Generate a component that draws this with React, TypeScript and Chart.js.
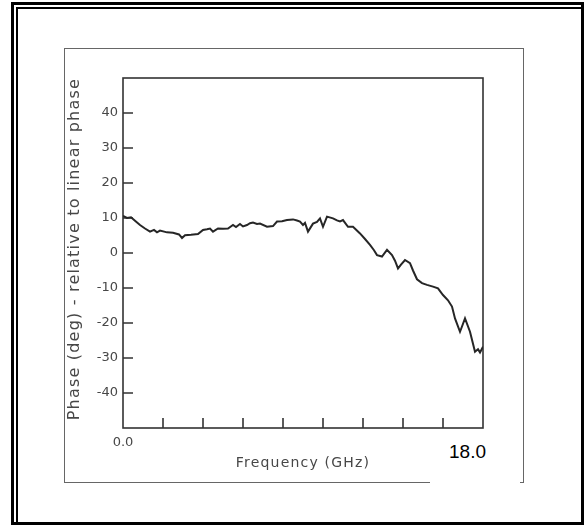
import { useEffect, useRef } from "react";
import { Chart, registerables } from "chart.js";

Chart.register(...registerables);

// ---- data ----
const freqGHz = [
  0.0, 0.2, 0.4, 0.6, 0.85, 1.1, 1.35, 1.55, 1.7, 1.85, 2.2, 2.5, 2.8, 2.95, 3.1, 3.4, 3.75, 4.0, 4.2, 4.35,
  4.5, 4.75, 5.0, 5.25, 5.5, 5.65, 5.85, 6.0, 6.2, 6.35, 6.5, 6.7, 6.85, 7.2, 7.5, 7.7, 7.95, 8.2, 8.5, 8.7,
  8.85, 9.0, 9.1, 9.25, 9.5, 9.7, 9.85, 10.0, 10.2, 10.5, 10.7, 10.85, 11.0, 11.25, 11.5, 11.85, 12.1, 12.35,
  12.55, 12.7, 12.95, 13.2, 13.45, 13.6, 13.75, 13.9, 14.1, 14.35, 14.5, 14.7, 14.95, 15.2, 15.5, 15.75, 16.0,
  16.25, 16.45, 16.6, 16.85, 16.95, 17.1, 17.35, 17.6, 17.75, 17.85, 18.0,
];
const phaseDeg = [
  10.6, 10.0, 10.2, 9.2, 8.0, 7.0, 6.1, 6.6, 5.9, 6.4, 5.9, 5.8, 5.3, 4.3, 5.1, 5.2, 5.4, 6.6, 6.8, 7.0,
  6.1, 7.0, 6.9, 7.0, 8.0, 7.4, 8.3, 7.6, 8.0, 8.5, 8.7, 8.3, 8.4, 7.5, 7.7, 9.0, 9.1, 9.4, 9.6, 9.3,
  9.0, 8.0, 8.6, 6.1, 8.4, 8.9, 9.9, 7.5, 10.4, 9.9, 9.3, 9.0, 9.4, 7.5, 7.5, 5.6, 4.0, 2.3,
  0.8, -0.6, -1.0, 0.9, -0.6, -2.2, -4.4, -3.3, -2.0, -2.9, -5.0, -7.5, -8.6, -9.1, -9.6, -10.1, -12.0,
  -13.5, -15.3, -18.7, -22.5, -21.0, -18.7, -22.5, -28.2, -27.5, -28.4, -26.8,
];

const yTickValues = [-40, -30, -20, -10, 0, 10, 20, 30, 40];
const xTickValues = [2, 4, 6, 8, 10, 12, 14, 16];
const xLabelValues = [0];
const xLabelTexts = ["0.0"];
const xEndLabel = "18.0";
const yTitle = "Phase (deg) - relative to linear phase";
const xTitle = "Frequency (GHz)";

const FONT = "'DejaVu Sans', 'Noto Sans', sans-serif";
const TEXT = "#474747";
const LINE = "#333333";

const framePlugin = {
  id: "scanFrame",
  afterUpdate(chart: any) {
    Object.values(chart.scales).forEach((s: any) => {
      if (s.__spaced) return;
      const orig = s.drawTitle.bind(s);
      s.drawTitle = function () {
        const c = this.ctx;
        const prev = c.letterSpacing;
        c.letterSpacing = "1.2px";
        orig();
        c.letterSpacing = prev || "0px";
      };
      s.__spaced = true;
    });
  },
  beforeDatasetsDraw(chart: any) {
    const { ctx, chartArea: a, scales } = chart;
    ctx.save();
    ctx.strokeStyle = LINE;
    ctx.lineWidth = 1.6;
    ctx.strokeRect(a.left, a.top, a.right - a.left, a.bottom - a.top);
    ctx.beginPath();
    yTickValues.forEach((v) => {
      const y = scales.y.getPixelForValue(v);
      ctx.moveTo(a.left, y);
      ctx.lineTo(a.left + 10, y);
    });
    xTickValues.forEach((v) => {
      const x = scales.x.getPixelForValue(v);
      ctx.moveTo(x, a.bottom);
      ctx.lineTo(x, a.bottom - 10);
    });
    ctx.stroke();
    ctx.restore();
  },
};

export default function App() {
  const ref = useRef<HTMLCanvasElement | null>(null);

  useEffect(() => {
    if (!ref.current) return;
    const chart = new Chart(ref.current, {
      type: "line",
      data: {
        datasets: [
          {
            data: freqGHz.map((f, i) => ({ x: f, y: phaseDeg[i] })),
            borderColor: "#262626",
            borderWidth: 2,
            pointRadius: 0,
            fill: false,
            tension: 0,
          },
        ],
      },
      options: {
        animation: false,
        responsive: false,
        layout: { padding: { left: 0, top: 78, right: 104, bottom: 0 } },
        plugins: { legend: { display: false }, tooltip: { enabled: false } },
        scales: {
          x: {
            type: "linear",
            min: 0,
            max: 18,
            afterFit: (s: any) => {
              s.height = 99;
            },
            grid: { display: false, drawTicks: false },
            border: { display: false },
            ticks: {
              stepSize: 2,
              autoSkip: false,
              maxRotation: 0,
              padding: 7,
              color: TEXT,
              font: { family: FONT, size: 13 },
              callback: (v: any) => {
                const i = xLabelValues.indexOf(Number(v));
                return i >= 0 ? xLabelTexts[i] : "";
              },
            },
            title: {
              display: true,
              text: xTitle,
              color: TEXT,
              font: { family: FONT, size: 14 },
              padding: { top: 0, bottom: 55 },
            },
          },
          y: {
            type: "linear",
            min: -50,
            max: 50,
            afterFit: (s: any) => {
              s.width = 123;
            },
            grid: { display: false, drawTicks: false },
            border: { display: false },
            ticks: {
              stepSize: 10,
              autoSkip: false,
              padding: 5,
              color: TEXT,
              font: { family: FONT, size: 13 },
              callback: (v: any) => (yTickValues.includes(Number(v)) ? String(v) : ""),
            },
            title: {
              display: true,
              text: yTitle,
              align: "end",
              color: TEXT,
              font: { family: FONT, size: 16 },
              padding: { top: 65, bottom: 0 },
            },
          },
        },
      },
      plugins: [framePlugin],
    } as any);
    return () => chart.destroy();
  }, []);

  return (
    <div
      style={{
        position: "fixed",
        left: 0,
        top: 0,
        width: 587,
        height: 527,
        background: "#fff",
        overflow: "hidden",
      }}
    >
      <div
        style={{
          position: "absolute",
          left: 11,
          top: 2,
          width: 573,
          height: 523,
          border: "3px solid #000",
          boxSizing: "border-box",
        }}
      />
      <div
        style={{
          position: "absolute",
          left: 16,
          top: 7,
          width: 565,
          height: 515,
          borderLeft: "2px solid #000",
          borderTop: "2px solid #000",
          boxSizing: "border-box",
        }}
      />
      <div
        style={{
          position: "absolute",
          left: 64,
          top: 48,
          width: 460,
          height: 435,
          border: "1.6px solid #666",
          boxSizing: "border-box",
        }}
      />
      <canvas
        ref={ref}
        width={587}
        height={527}
        style={{ position: "absolute", left: 0, top: 0, width: 587, height: 527 }}
      />
      <div
        style={{
          position: "absolute",
          left: 430,
          top: 436,
          width: 90,
          height: 50,
          background: "#fff",
        }}
      >
        <span
          style={{
            position: "absolute",
            left: 19,
            top: 6,
            fontFamily: "'Liberation Sans', Arial, sans-serif",
            fontSize: 19,
            lineHeight: "19px",
            color: "#000",
            whiteSpace: "nowrap",
          }}
        >
          {xEndLabel}
        </span>
      </div>
    </div>
  );
}
